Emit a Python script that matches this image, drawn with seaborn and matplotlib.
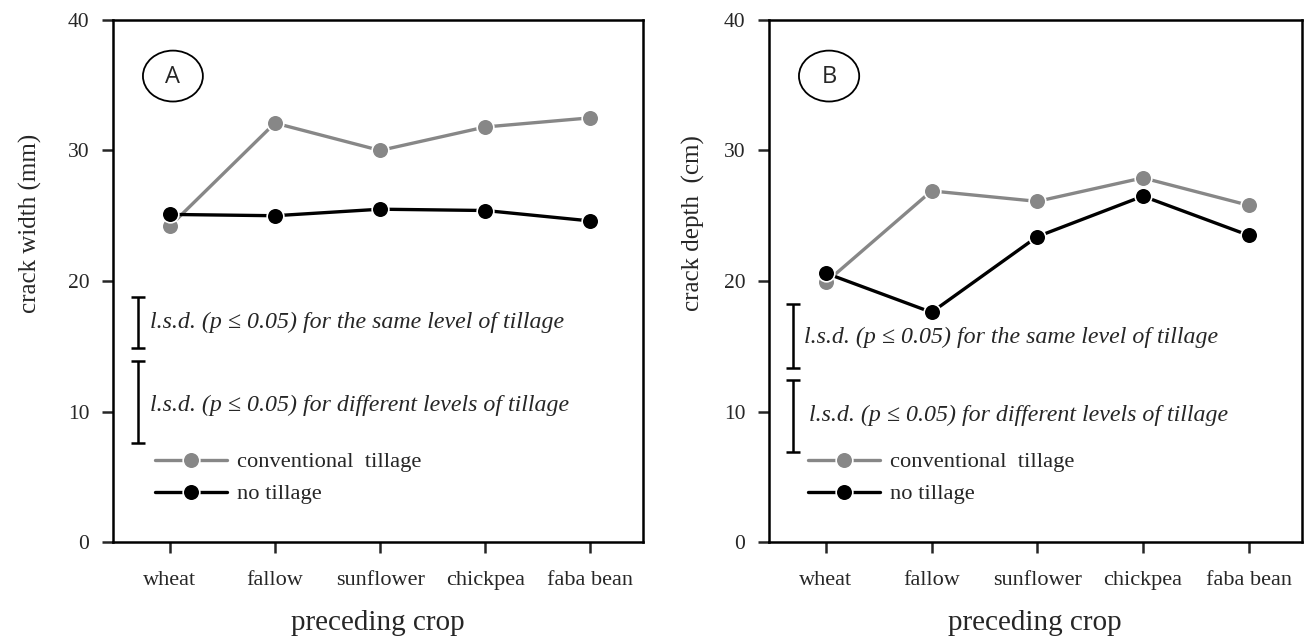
import matplotlib
matplotlib.use("Agg")
import matplotlib.pyplot as plt
from matplotlib.patches import Ellipse
import seaborn as sns
import pandas as pd

# datos
crops = ['wheat', 'fallow', 'sunflower', 'chickpea', 'faba bean']
width_conv = [24.2, 32.1, 30.0, 31.8, 32.5]
width_notill = [25.1, 25.0, 25.5, 25.4, 24.6]
depth_conv = [19.9, 26.9, 26.1, 27.9, 25.8]
depth_notill = [20.6, 17.6, 23.4, 26.5, 23.5]

# l.s.d. (p <= 0.05)
lsd_width = [3.9, 6.3]   # misma labranza, distinta labranza
lsd_depth = [4.9, 5.5]

GRAY = '#878787'

sns.set_theme(style="ticks")
plt.rcParams['font.family'] = ['Liberation Serif', 'DejaVu Serif']


def panel(ax, conv, notill, lsd, lsd_pos, txt_pos, letter, ylabel, ylab_x, leg_x):
    df = pd.DataFrame({
        'crop': crops * 2,
        'value': conv + notill,
        'tillage': ['conventional  tillage'] * 5 + ['no tillage'] * 5,
    })
    sns.lineplot(data=df, x='crop', y='value', hue='tillage',
                 palette={'conventional  tillage': GRAY, 'no tillage': 'black'},
                 marker='o', markersize=12, markeredgecolor='white', markeredgewidth=1.2,
                 linewidth=2.4, sort=False, ax=ax, legend=True)

    # barras l.s.d.
    for (xc, yc), d in zip(lsd_pos, lsd):
        ax.errorbar(xc, yc, yerr=d / 2, fmt='none', ecolor='black',
                    elinewidth=1.8, capsize=5, capthick=1.8)
    ax.text(txt_pos[0][0], txt_pos[0][1], 'l.s.d. (p ≤ 0.05) for the same level of tillage',
            style='italic', fontsize=17.2, va='center', ha='left')
    ax.text(txt_pos[1][0], txt_pos[1][1], 'l.s.d. (p ≤ 0.05) for different levels of tillage',
            style='italic', fontsize=17.2, va='center', ha='left')

    # etiqueta de panel
    ax.add_patch(Ellipse((0.03, 35.7), 0.57, 3.9, fill=False, edgecolor='black', lw=1.3))
    ax.text(0.03, 35.6, letter, fontsize=17, ha='center', va='center', family='Open Sans')

    ax.set_xlim(-0.54, 4.5)
    ax.set_ylim(0, 40)
    ax.set_yticks([0, 10, 20, 30, 40])
    ax.set_xlabel('preceding crop', fontsize=21, labelpad=14)
    ax.set_ylabel(ylabel, fontsize=18)
    ax.yaxis.set_label_coords(ylab_x, 0.61)
    ax.tick_params(axis='y', labelsize=15.5, length=8, width=1.8, pad=9)
    ax.tick_params(axis='x', labelsize=16, length=8, width=1.8, pad=13)
    for s in ax.spines.values():
        s.set_linewidth(1.8)
        s.set_color('black')

    leg = ax.legend(loc='lower left', bbox_to_anchor=(leg_x, 0.072), frameon=False,
                    fontsize=16.2, handlelength=3.2, handletextpad=0.45,
                    labelspacing=0.5, borderpad=0, borderaxespad=0)
    for h in leg.legend_handles:
        h.set_markersize(12)


fig = plt.figure(figsize=(13.12, 6.43), dpi=100)
ax1 = fig.add_axes([0.0861, 0.157, 0.404, 0.812])
ax2 = fig.add_axes([0.586, 0.157, 0.406, 0.812])

panel(ax1, width_conv, width_notill, lsd_width,
      [(-0.30, 16.85), (-0.30, 10.75)], [(-0.19, 16.8), (-0.19, 10.5)],
      'A', 'crack width (mm)', -0.134, 0.079)
panel(ax2, depth_conv, depth_notill, lsd_depth,
      [(-0.31, 15.75), (-0.31, 9.65)], [(-0.21, 15.7), (-0.16, 9.7)],
      'B', 'crack depth  (cm)', -0.12, 0.073)

fig.savefig('out.png', dpi=100)
